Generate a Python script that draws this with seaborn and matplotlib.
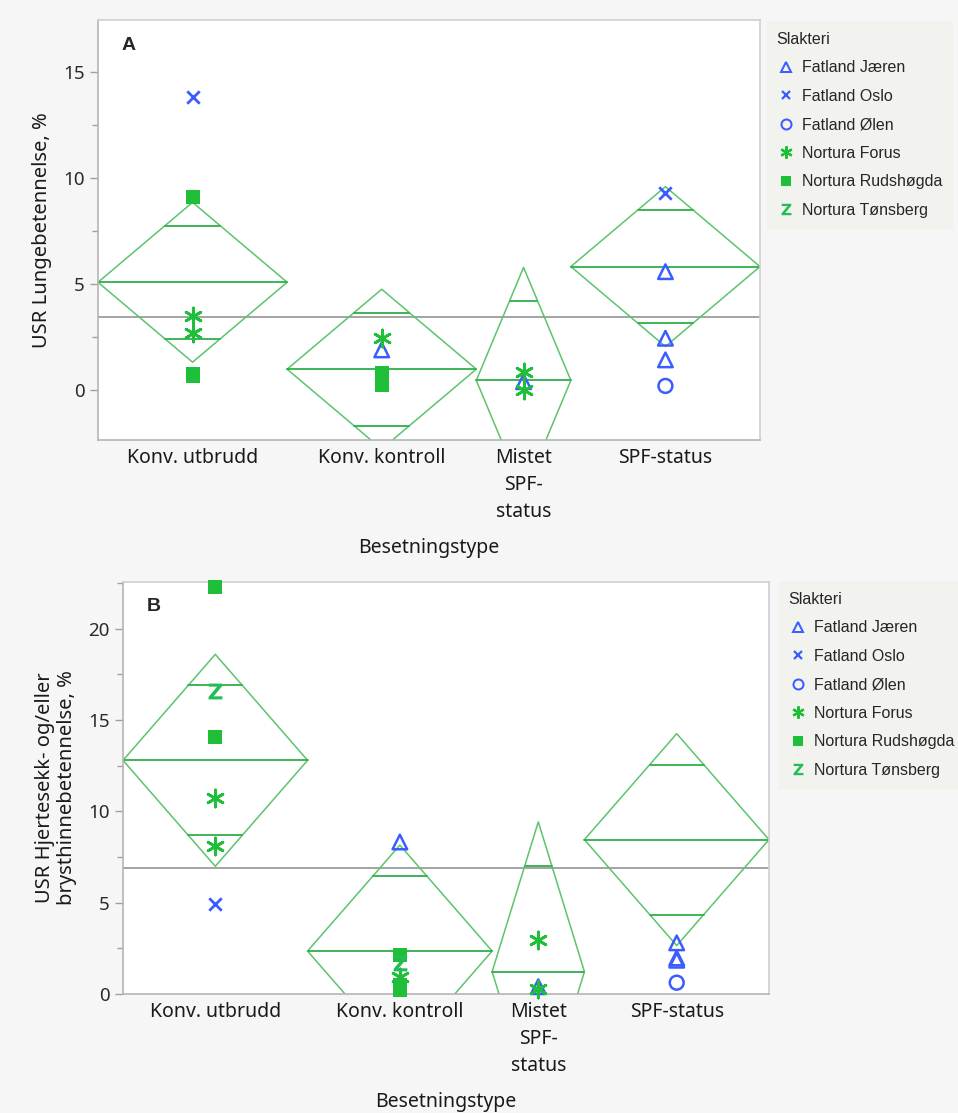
import numpy as np
import pandas as pd
import matplotlib
matplotlib.use("Agg")
import matplotlib.pyplot as plt
from matplotlib.lines import Line2D
from matplotlib.markers import MarkerStyle
import seaborn as sns

# ---------------------------------------------------------------- data
groups = ["Konv. utbrudd", "Konv. kontroll", "Mistet\nSPF-\nstatus", "SPF-status"]
group_n = [6, 6, 3, 6]          # herd counts -> column widths

slakterier = ["Fatland Jæren", "Fatland Oslo", "Fatland Ølen",
              "Nortura Forus", "Nortura Rudshøgda", "Nortura Tønsberg"]

# Panel A: lung lesions (USR Lungebetennelse, %)
a_group = [0, 0, 0, 0, 0, 0,
           1, 1, 1, 1,
           2, 2, 2,
           3, 3, 3, 3, 3]
a_slakteri = ["Fatland Oslo", "Nortura Rudshøgda", "Nortura Forus", "Nortura Forus",
              "Nortura Rudshøgda", "Nortura Rudshøgda",
              "Nortura Forus", "Fatland Jæren", "Nortura Rudshøgda", "Nortura Rudshøgda",
              "Nortura Forus", "Fatland Jæren", "Nortura Forus",
              "Fatland Oslo", "Fatland Jæren", "Fatland Jæren", "Fatland Jæren", "Fatland Ølen"]
a_value = [13.80, 9.12, 3.49, 2.70, 0.75, 0.68,
           2.44, 1.89, 0.79, 0.24,
           0.86, 0.39, 0.00,
           9.28, 5.58, 2.44, 1.42, 0.19]
a_mean = [5.08, 0.98, 0.45, 5.82]
a_ci = [3.77, 3.77, 5.33, 3.77]
a_grand = 3.44

# Panel B: pericarditis / pleuritis (%)
b_group = [0, 0, 0, 0, 0, 0,
           1, 1, 1, 1, 1, 1,
           2, 2, 2,
           3, 3, 3, 3]
b_slakteri = ["Nortura Rudshøgda", "Nortura Tønsberg", "Nortura Rudshøgda", "Nortura Forus",
              "Nortura Forus", "Fatland Oslo",
              "Fatland Jæren", "Nortura Rudshøgda", "Nortura Tønsberg", "Nortura Forus",
              "Nortura Rudshøgda", "Nortura Rudshøgda",
              "Nortura Forus", "Nortura Forus", "Fatland Jæren",
              "Fatland Jæren", "Fatland Jæren", "Fatland Jæren", "Fatland Ølen"]
b_value = [22.26, 16.60, 14.06, 10.73, 8.10, 4.95,
           8.32, 2.15, 1.71, 0.95, 0.49, 0.22,
           2.95, 0.30, 0.40,
           2.80, 1.97, 1.85, 0.62]
b_mean = [12.79, 2.35, 1.22, 8.45]
b_ci = [5.80, 5.80, 8.20, 5.80]
b_grand = 6.92

# ---------------------------------------------------------------- style
BLUE = "#3b5cff"
GREEN = "#1fbf3a"
TEAL = "#22bd55"
DIAMOND = "#5cc46c"
MEANLINE = "#2fae4a"
GREY = "#8a8a8a"
BG = "#f6f6f6"

sns.set_style("white")
plt.rcParams["font.family"] = ["Noto Sans", "DejaVu Sans"]
plt.rcParams["mathtext.fontset"] = "custom"
plt.rcParams["mathtext.bf"] = "DejaVu Sans:bold"

marker_style = {
    "Fatland Jæren": (MarkerStyle("^", fillstyle="none"), BLUE, 110, 1.8),
    "Fatland Oslo": ("x", BLUE, 80, 2.0),
    "Fatland Ølen": (MarkerStyle("o", fillstyle="none"), BLUE, 100, 1.8),
    "Nortura Forus": ((6, 2, 0), GREEN, 150, 2.0),
    "Nortura Rudshøgda": ("s", GREEN, 90, 0.0),
    "Nortura Tønsberg": (r"$\mathbf{Z}$", TEAL, 130, 0.0),
}

fig = plt.figure(figsize=(9.58, 11.13), dpi=100, facecolor=BG)

n = np.array(group_n, dtype=float)
bounds = np.concatenate([[0], np.cumsum(n)])
centers = (bounds[:-1] + bounds[1:]) / 2


def draw_panel(ax, grp, slak, vals, means, cis, grand, ylim, yticks, ylabel, letter):
    ax.set_facecolor("white")
    df = pd.DataFrame({"xpos": centers[np.array(grp)], "verdi": vals, "Slakteri": slak})

    # grand mean line
    ax.axhline(grand, color=GREY, lw=1.1, zorder=1)

    # means diamonds
    for i in range(len(groups)):
        L, R, C = bounds[i], bounds[i + 1], centers[i]
        m, h = means[i], cis[i]
        ax.plot([L, C, R, C, L], [m, m + h, m, m - h, m], color=DIAMOND, lw=1.1, zorder=2)
        ax.plot([L, R], [m, m], color=MEANLINE, lw=1.3, zorder=2)
        half = (R - L) / 2 * (1 - 1 / np.sqrt(2))
        for s in (1, -1):
            y = m + s * h / np.sqrt(2)
            ax.plot([C - half, C + half], [y, y], color=MEANLINE, lw=1.3, zorder=2)

    # points per slaughterhouse
    for name in slakterier:
        sub = df[df["Slakteri"] == name]
        if sub.empty:
            continue
        mk, col, size, lw = marker_style[name]
        sns.scatterplot(data=sub, x="xpos", y="verdi", ax=ax, marker=mk, color=col,
                        s=size, linewidth=lw, legend=False, zorder=4, clip_on=False)

    ax.set_xlim(bounds[0], bounds[-1])
    ax.set_ylim(*ylim)
    ax.set_yticks(yticks)
    ax.set_yticks(np.arange(0, ylim[1], 2.5), minor=True)
    ax.set_xticks(bounds[1:-1])
    ax.set_xticklabels([""] * (len(bounds) - 2))
    ax.set_xticks(centers, groups, minor=True)
    ax.tick_params(axis="x", which="major", length=9, color="#b0b0b0", width=1.0)
    ax.tick_params(axis="x", which="minor", length=0, labelsize=14, pad=6,
                   labelcolor="#1a1a1a")
    ax.tick_params(axis="y", which="major", length=6, color="#a0a0a0", width=1.0,
                   labelsize=13.5, labelcolor="#2a2a2a", left=True)
    ax.tick_params(axis="y", which="minor", length=4, color="#a0a0a0", width=1.0, left=True)
    for lab in ax.get_xticklabels(minor=True):
        lab.set_linespacing(1.45)
        lab.set_verticalalignment("top")
    for side, sp in ax.spines.items():
        sp.set_color("#b5b5b5" if side in ("left", "bottom") else "#d0d0d0")
        sp.set_linewidth(1.2)
    ax.set_xlabel("Besetningstype", fontsize=14, color="#1a1a1a", labelpad=12)
    ax.set_ylabel(ylabel, fontsize=14.5, color="#1a1a1a", labelpad=8)
    ax.text(0.036, 0.94, letter, transform=ax.transAxes, fontsize=14,
            fontweight="bold", family=["Liberation Sans", "DejaVu Sans"],
            ha="left", va="center")


axA = fig.add_axes([98 / 958, 1 - 440 / 1113, 662 / 958, 420 / 1113])
draw_panel(axA, a_group, a_slakteri, a_value, a_mean, a_ci, a_grand,
           (-2.36, 17.45), [0, 5, 10, 15], "USR Lungebetennelse, %", "A")

axB = fig.add_axes([123 / 958, 1 - 994 / 1113, 646 / 958, 412 / 1113])
draw_panel(axB, b_group, b_slakteri, b_value, b_mean, b_ci, b_grand,
           (0, 22.55), [0, 5, 10, 15, 20],
           "USR Hjertesekk- og/eller\nbrysthinnebetennelse, %", "B")
axB.yaxis.label.set_linespacing(1.15)


def legend_handles():
    hs = []
    for name in slakterier:
        mk, col, size, lw = marker_style[name]
        ms = np.sqrt(size) * 0.72
        hs.append(Line2D([], [], linestyle="none", marker=mk, color=col,
                         markersize=ms, markeredgewidth=max(lw * 0.8, 0.0),
                         label=name))
    return hs


for anchor in [(767 / 958, 1 - 22 / 1113), (779 / 958, 1 - 582 / 1113)]:
    leg = fig.legend(handles=legend_handles(), title="Slakteri", loc="upper left",
                     bbox_to_anchor=anchor, frameon=True, fancybox=False,
                     prop={"family": ["Liberation Sans", "DejaVu Sans"], "size": 11.5},
                     title_fontproperties={"family": ["Liberation Sans", "DejaVu Sans"], "size": 11.5},
                     alignment="left", labelspacing=0.85, handletextpad=0.4,
                     handlelength=1.2, borderpad=0.6, borderaxespad=0)
    leg.get_frame().set_facecolor("#f1f1ec")
    leg.get_frame().set_edgecolor("#f1f1ec")

fig.savefig("out.png", dpi=100, facecolor=BG)
